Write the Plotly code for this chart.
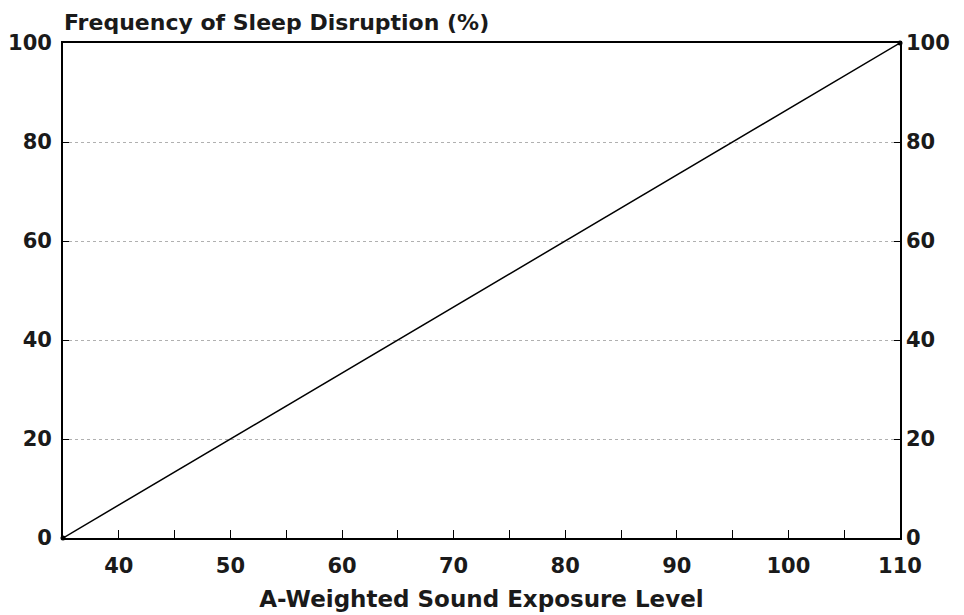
import plotly.graph_objects as go

# Data
sel_values = [35, 110]          # A-weighted sound exposure level
disruption_pct = [0, 100]       # frequency of sleep disruption (%)
x_tick_values = [40, 50, 60, 70, 80, 90, 100, 110]
y_tick_values = [0, 20, 40, 60, 80, 100]

FONT = "DejaVu Sans"
TXT = "#1a1a1a"

fig = go.Figure()
fig.add_trace(go.Scatter(
    x=sel_values, y=disruption_pct, mode="lines+markers",
    line=dict(color="black", width=1.5),
    marker=dict(color="black", size=5),
    showlegend=False, cliponaxis=False,
))
# invisible trace on secondary y-axis so it renders
fig.add_trace(go.Scatter(
    x=sel_values, y=disruption_pct, yaxis="y2", mode="lines",
    line=dict(color="rgba(0,0,0,0)"), showlegend=False, hoverinfo="skip",
))

tickfont = dict(family=FONT, size=21, color=TXT, weight="bold")

fig.update_layout(
    width=956, height=607,
    margin=dict(l=55, r=64, t=35, b=77),
    plot_bgcolor="white", paper_bgcolor="white",
    xaxis=dict(
        range=[35, 110], tickvals=x_tick_values, ticks="inside", ticklen=8,
        tickcolor="black", tickwidth=1.2, automargin=False,
        minor=dict(dtick=5, tick0=35, ticks="inside", ticklen=8, tickcolor="black", tickwidth=1.2, showgrid=False),
        showgrid=False, zeroline=False, showline=True, linecolor="black", linewidth=1.8,
        mirror=True, tickfont=tickfont, ticklabelstandoff=8,
        title=dict(text="A-Weighted Sound Exposure Level",
                   font=dict(family=FONT, size=23, color=TXT, weight="bold"), standoff=14),
    ),
    yaxis=dict(
        range=[0, 100], tickvals=y_tick_values, ticks="inside", ticklen=6,
        tickcolor="black", automargin=False, showgrid=True,
        gridcolor="#b0b0b0", griddash="dot", gridwidth=1, zeroline=False,
        showline=True, linecolor="black", linewidth=1.8, mirror=True,
        tickfont=tickfont, ticklabelstandoff=5,
    ),
    yaxis2=dict(
        range=[0, 100], tickvals=y_tick_values, overlaying="y", side="right",
        ticks="inside", ticklen=6, tickcolor="black", showgrid=False, zeroline=False,
        showline=False, tickfont=tickfont, ticklabelstandoff=5, automargin=False,
    ),
    annotations=[dict(
        text="Frequency of Sleep Disruption (%)", xref="paper", yref="paper",
        x=0.0, y=1.0, xanchor="left", yanchor="bottom", yshift=6, xshift=-1,
        showarrow=False, font=dict(family=FONT, size=22, color=TXT, weight="bold"),
    )],
)

fig.write_html("out.html")
